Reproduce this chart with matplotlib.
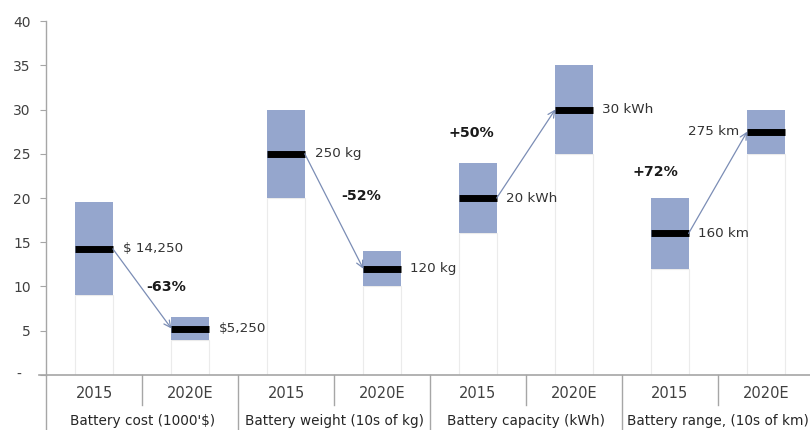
import matplotlib
matplotlib.use("Agg")
import matplotlib.pyplot as plt
import matplotlib.transforms as mtransforms

plt.rcParams['font.family'] = ['DejaVu Sans']

# ---- data ----
groups = ["Battery cost (1000'$)", "Battery weight (10s of kg)",
          "Battery capacity (kWh)", "Battery range, (10s of km)"]
periods = ["2015", "2020E"]
low = [9, 4, 20, 10, 16, 25, 12, 25]
high = [19.5, 6.5, 30, 14, 24, 35, 20, 30]
mid = [14.25, 5.25, 25, 12, 20, 30, 16, 27.5]
value_labels = ["$ 14,250", "$5,250", "250 kg", "120 kg",
                "20 kWh", "30 kWh", "160 km", "275 km"]
changes = ["-63%", "-52%", "+50%", "+72%"]
y_ticks = [0, 5, 10, 15, 20, 25, 30, 35, 40]

# ---- layout ----
change_pos = [(0.75, 9.9), (2.78, 20.2), (3.93, 27.3), (5.85, 22.9)]
bar_w = 0.39
blue = "#95a6cd"
grey_txt = "#404040"
axis_grey = "#a6a6a6"

fig = plt.figure(figsize=(8.1, 4.3), dpi=100)
ax = fig.add_axes([0.057, 0.128, 0.943, 0.823])

n = len(low)
xs = list(range(n))

# invisible base + visible range box
ax.bar(xs, low, width=bar_w, color="white", edgecolor="#ebebeb", linewidth=0.8, zorder=1)
ax.bar(xs, [h - l for h, l in zip(high, low)], bottom=low, width=bar_w,
       color=blue, edgecolor="none", zorder=2)
ax.hlines(mid, [x - bar_w / 2 for x in xs], [x + bar_w / 2 for x in xs],
          color="black", linewidth=5, zorder=3)

# value labels
for i, (m, lab) in enumerate(zip(mid, value_labels)):
    if i == n - 1:
        ax.annotate(lab, (i - bar_w / 2, m), xytext=(-6, 0), textcoords="offset points",
                    ha="right", va="center", fontsize=9.7, color="#333333", zorder=4)
    else:
        ax.annotate(lab, (i + bar_w / 2, m), xytext=(7, 0), textcoords="offset points",
                    ha="left", va="center", fontsize=9.7, color="#333333", zorder=4)

# change arrows and percentages
for g in range(len(groups)):
    a, b = 2 * g, 2 * g + 1
    ax.annotate("", xy=(b - bar_w / 2, mid[b]), xytext=(a + bar_w / 2, mid[a]),
                arrowprops=dict(arrowstyle="->", color="#7b8db5", lw=0.9,
                                shrinkA=0, shrinkB=0, mutation_scale=12), zorder=5)
    cx, cy = change_pos[g]
    ax.text(cx, cy, changes[g], ha="center", va="center", fontsize=10.2,
            fontweight="bold", color="#1a1a1a")

ax.set_xlim(-0.5, 7.46)
ax.set_ylim(0, 40)

# y axis
ax.set_yticks(y_ticks)
ax.set_yticklabels([str(t) if t else "" for t in y_ticks])
ax.tick_params(axis="y", direction="out", length=4, color=axis_grey,
               labelsize=10, labelcolor=grey_txt, pad=7)
ax.text(-0.033, 0, "-", transform=mtransforms.blended_transform_factory(ax.transAxes, ax.transData),
        ha="right", va="center", fontsize=10, color=grey_txt)
ax.set_xticks([])
for s in ["top", "right", "bottom"]:
    ax.spines[s].set_visible(False)
ax.spines["left"].set_color(axis_grey)
ax.spines["left"].set_linewidth(1.0)

# category axis drawn below the plot
tr = mtransforms.blended_transform_factory(ax.transData, ax.transAxes)
ax.plot([-0.57, 7.46], [0, 0], transform=tr, color=axis_grey, lw=1.2, clip_on=False)
ax.plot([-0.5, -0.5], [0, -0.16], transform=tr, color=axis_grey, lw=1.0, clip_on=False)
for i in range(n):
    ax.text(i, -0.052, periods[i % 2], transform=tr, ha="center", va="center",
            fontsize=10.5, color=grey_txt)
    if i % 2 == 0:
        ax.plot([i + 0.5, i + 0.5], [0, -0.085], transform=tr, color=axis_grey,
                lw=1.0, clip_on=False)
    elif i < n - 1:
        ax.plot([i + 0.5, i + 0.5], [0, -0.16], transform=tr, color=axis_grey,
                lw=1.0, clip_on=False)
for g, name in enumerate(groups):
    ax.text(2 * g + 0.5, -0.13, name, transform=tr, ha="center", va="center",
            fontsize=9.8, color="#262626")

fig.savefig("out.png", dpi=100)
